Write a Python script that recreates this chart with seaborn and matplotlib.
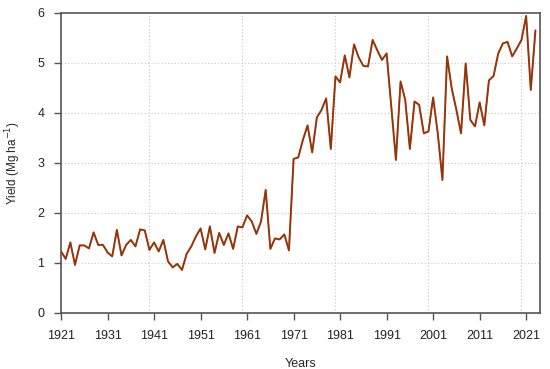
import matplotlib
matplotlib.use("Agg")
import matplotlib.pyplot as plt
import seaborn as sns
import pandas as pd

years = list(range(1921, 2024))
yield_mg_ha = [
    1.23, 1.08, 1.41, 0.96, 1.35, 1.35, 1.29, 1.61, 1.36, 1.36,  # 1921-1930
    1.21, 1.13, 1.66, 1.15, 1.36, 1.46, 1.33, 1.67, 1.65, 1.26,  # 1931-1940
    1.41, 1.23, 1.46, 1.03, 0.91, 0.98, 0.86, 1.18, 1.33, 1.53,  # 1941-1950
    1.69, 1.27, 1.73, 1.20, 1.60, 1.36, 1.59, 1.28, 1.73, 1.71,  # 1951-1960
    1.95, 1.83, 1.58, 1.83, 2.46, 1.28, 1.49, 1.47, 1.57, 1.25,  # 1961-1970
    3.08, 3.11, 3.46, 3.75, 3.21, 3.91, 4.06, 4.29, 3.28, 4.73,  # 1971-1980
    4.61, 5.15, 4.71, 5.37, 5.11, 4.94, 4.93, 5.46, 5.25, 5.06,  # 1981-1990
    5.19, 4.13, 3.06, 4.63, 4.26, 3.28, 4.23, 4.16, 3.59, 3.63,  # 1991-2000
    4.31, 3.59, 2.66, 5.13, 4.49, 4.06, 3.59, 4.99, 3.86, 3.73,  # 2001-2010
    4.21, 3.75, 4.65, 4.74, 5.19, 5.39, 5.42, 5.13, 5.29, 5.46,  # 2011-2020
    5.94, 4.46, 5.65,                                            # 2021-2023
]
x_ticks = list(range(1921, 2022, 10))
y_ticks = [0, 1, 2, 3, 4, 5, 6]
grid_x = [1940, 1960, 1980, 2000, 2020]
grid_y = [1, 2, 3, 4, 5]

df = pd.DataFrame({"year": years, "yield": yield_mg_ha})

sns.set_style("white")
plt.rcParams["font.family"] = ["Liberation Sans", "DejaVu Sans"]

fig = plt.figure(figsize=(5.5, 3.69), dpi=100)
ax = fig.add_axes([0.111, 0.152, 0.871, 0.813])

for gx in grid_x:
    ax.axvline(gx, color="#c8c8c8", linestyle=(0, (1, 2)), linewidth=0.8, zorder=0)
for gy in grid_y:
    ax.axhline(gy, color="#c8c8c8", linestyle=(0, (1, 2)), linewidth=0.8, zorder=0)

# red line with a darker olive one on top, like the overlapping series in the original
sns.lineplot(data=df, x="year", y="yield", ax=ax, color="#d42a10", linewidth=1.4)
sns.lineplot(data=df, x="year", y="yield", ax=ax, color="#4a4a08", linewidth=1.0, alpha=0.6)

ax.set_xlim(1921, 2024)
ax.set_ylim(0, 6)
ax.set_xticks(x_ticks)
ax.set_yticks(y_ticks)
ax.tick_params(axis="both", direction="out", length=5, width=1, color="#555555",
               labelsize=9, labelcolor="#222222", pad=7, left=True, bottom=True)

for s in ax.spines.values():
    s.set_color("#555555")
    s.set_linewidth(1.2)

ax.set_xlabel("Years", fontsize=9, labelpad=12)
ax.set_ylabel("Yield (Mg ha$^{-1}$)", fontsize=8.5)
ax.yaxis.set_label_coords(-0.08, 0.5)

fig.savefig("out.png", dpi=100)
